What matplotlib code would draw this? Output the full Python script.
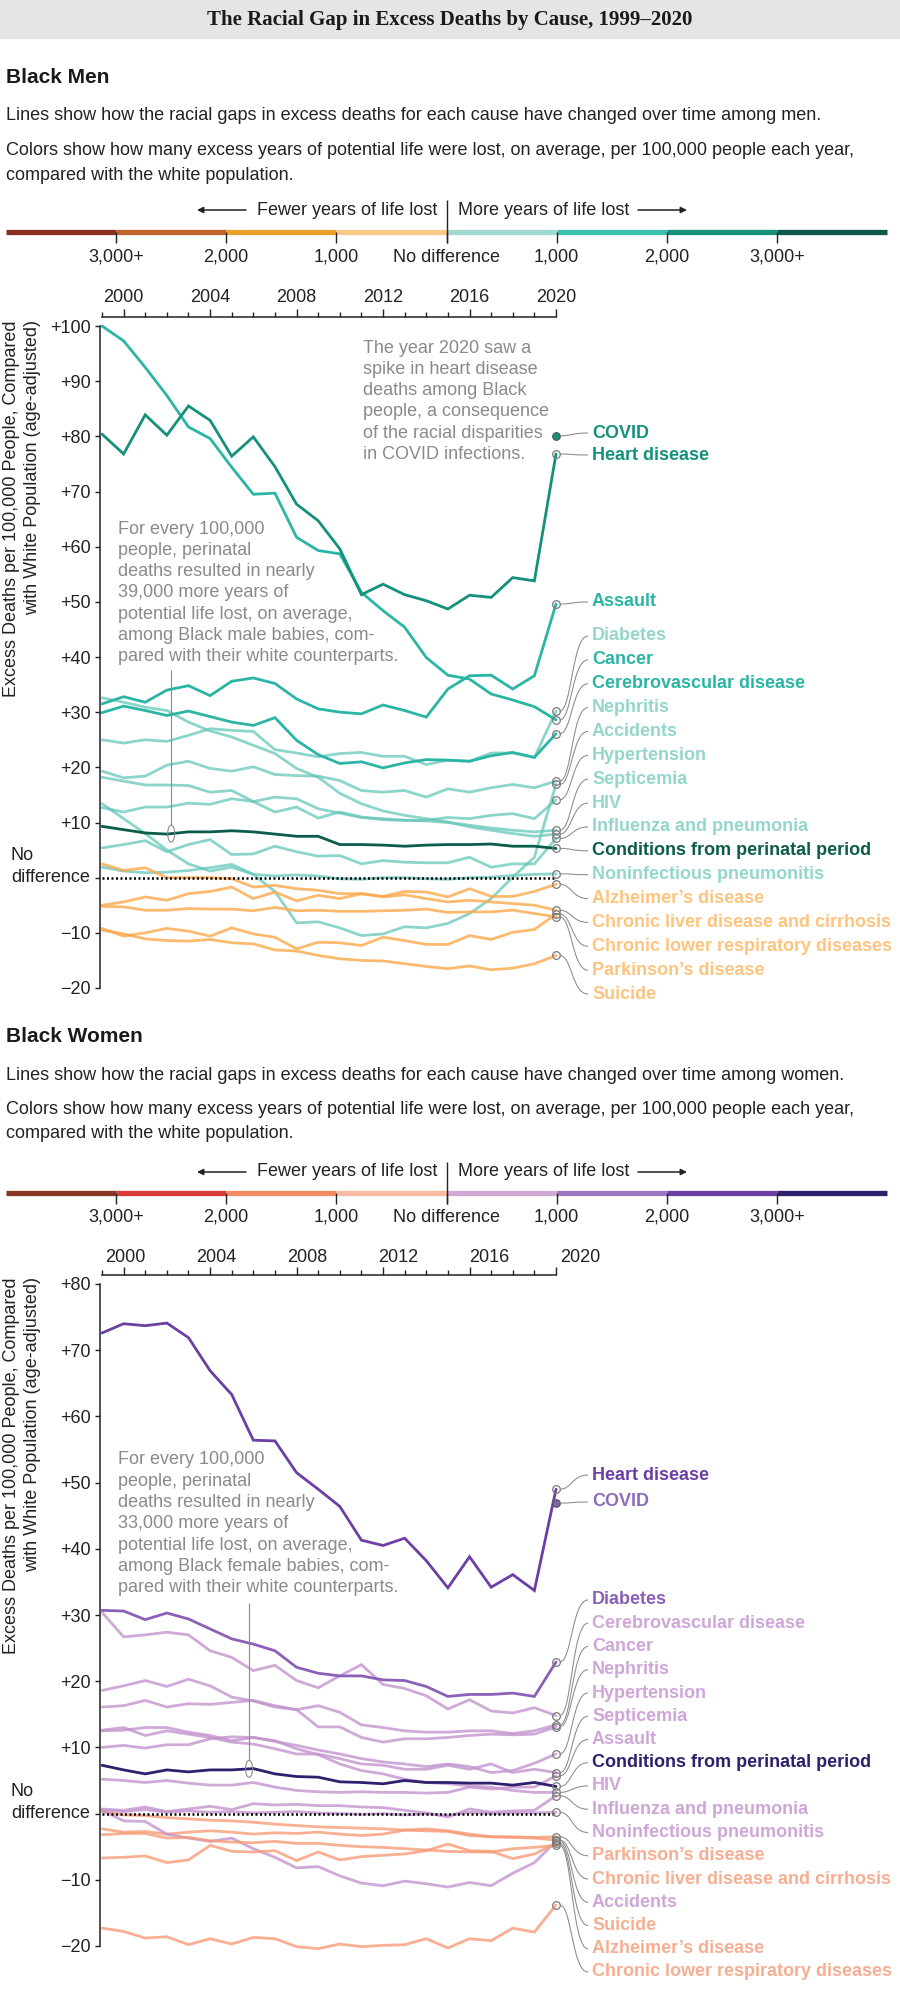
import numpy as np
import matplotlib
matplotlib.use("Agg")
import matplotlib.pyplot as plt
from matplotlib.patches import Rectangle, Ellipse, PathPatch
from matplotlib.path import Path

plt.rcParams["font.family"] = ["Liberation Sans", "DejaVu Sans"]

W, H = 900, 1993
YEARS = np.arange(1999, 2021)
MAJOR_YEARS = [2000, 2004, 2008, 2012, 2016, 2020]
SCALE_TICKS = ["3,000+", "2,000", "1,000", "No difference", "1,000", "2,000", "3,000+"]

# ---------------------------------------------------------------------
# Black men: excess deaths per 100,000 vs white men, 1999-2020
# ---------------------------------------------------------------------
men_heart = [80.4, 76.8, 83.9, 80.2, 85.5, 82.9, 76.4, 79.9, 74.5, 67.7, 64.7,
             59.6, 51.3, 53.2, 51.3, 50.2, 48.7, 51.2, 50.8, 54.4, 53.8, 76.8]
men_covid = 80.1  # 2020 only
men_cancer = [100.0, 97.3, 92.5, 87.4, 81.7, 79.6, 74.4, 69.5, 69.7, 61.7, 59.3,
              58.7, 51.7, 48.4, 45.4, 39.9, 36.7, 36.0, 33.3, 32.2, 31.0, 28.6]
men_assault = [31.5, 32.8, 31.8, 34.0, 34.8, 33.0, 35.6, 36.2, 35.2, 32.4, 30.6,
               30.0, 29.7, 31.3, 30.3, 29.1, 34.2, 36.6, 36.7, 34.2, 36.6, 49.6]
men_cerebro = [29.9, 31.1, 30.3, 29.4, 30.2, 29.2, 28.2, 27.6, 29.0, 24.9, 22.3,
               20.7, 21.0, 19.9, 20.8, 21.4, 21.3, 21.1, 22.1, 22.7, 21.8, 26.1]
men_diabetes = [25.0, 24.4, 25.0, 24.7, 25.8, 27.0, 26.7, 26.5, 23.2, 22.6, 21.9,
                22.5, 22.7, 22.0, 22.0, 20.5, 21.3, 21.1, 22.6, 22.6, 21.8, 30.2]
men_nephritis = [19.3, 18.1, 18.4, 20.4, 21.1, 19.8, 19.3, 20.1, 18.7, 18.5, 18.4,
                 17.6, 15.8, 15.5, 15.8, 14.6, 16.1, 15.5, 16.3, 16.9, 16.3, 17.5]
men_accidents = [13.4, 10.7, 8.0, 5.0, 2.5, 1.2, 1.9, 0.6, -2.5, -8.2, -8.0,
                 -9.1, -10.5, -10.2, -8.9, -9.1, -8.3, -6.5, -3.8, 0.1, 3.7, 16.9]
men_hypertension = [12.7, 11.9, 12.8, 12.8, 13.5, 13.3, 14.3, 13.8, 14.6, 14.3, 12.5,
                    11.7, 10.9, 10.7, 10.4, 10.4, 10.9, 10.7, 11.3, 11.6, 10.7, 14.1]
men_septicemia = [18.2, 17.5, 16.8, 16.8, 16.7, 15.5, 15.8, 13.8, 11.9, 12.8, 10.8,
                  11.9, 11.0, 10.5, 10.4, 10.3, 10.0, 9.5, 9.0, 8.6, 8.3, 8.6]
men_hiv = [32.6, 31.8, 30.9, 30.3, 28.2, 26.6, 25.5, 24.0, 22.5, 19.8, 18.2,
           15.3, 13.4, 12.1, 11.3, 10.7, 10.1, 9.2, 8.6, 8.0, 7.5, 7.9]
men_influenza = [5.4, 6.0, 6.7, 4.7, 6.0, 6.9, 4.2, 4.3, 5.7, 4.7, 3.9,
                 4.0, 2.5, 3.1, 2.8, 2.7, 2.7, 3.7, 1.9, 2.5, 2.5, 7.1]
men_perinatal = [9.3, 8.7, 8.1, 7.9, 8.3, 8.3, 8.5, 8.3, 7.9, 7.5, 7.5,
                 6.0, 6.0, 5.9, 5.7, 5.9, 6.0, 6.0, 6.1, 5.7, 5.7, 5.3]
men_noninfectious = [1.9, 1.2, 0.9, 1.0, 1.3, 1.8, 2.4, 0.6, 0.3, 0.5, 0.3,
                     -0.2, -0.3, 0.0, 0.0, -0.2, -0.3, 0.0, 0.1, 0.4, 0.6, 0.7]
men_alzheimer = [-5.0, -4.4, -3.5, -4.1, -2.9, -2.5, -1.7, -3.8, -2.6, -4.2, -3.2,
                 -3.8, -2.9, -3.4, -2.5, -2.6, -3.5, -2.0, -3.4, -3.4, -2.5, -1.2]
men_liver = [2.5, 1.3, 1.8, 0.0, 0.0, 0.0, -0.2, -1.7, -1.4, -2.0, -2.3,
             -2.9, -2.9, -3.5, -3.1, -3.8, -4.4, -4.1, -4.4, -4.7, -5.0, -5.9]
men_clrd = [-9.2, -10.6, -10.0, -9.2, -9.7, -10.6, -9.1, -10.2, -10.8, -12.9, -11.7,
            -11.8, -12.3, -10.8, -11.4, -12.1, -12.1, -10.5, -11.2, -9.9, -9.4, -6.6]
men_parkinson = [-5.2, -5.3, -5.9, -5.9, -5.6, -5.7, -5.7, -6.0, -5.4, -6.0, -5.9,
                 -6.1, -6.1, -6.0, -5.9, -5.7, -6.3, -6.2, -6.2, -5.9, -6.5, -7.1]
men_suicide = [-9.5, -10.2, -11.1, -11.4, -11.5, -11.2, -11.8, -12.0, -13.1, -13.3, -14.1,
               -14.7, -15.0, -15.1, -15.6, -16.1, -16.5, -16.0, -16.7, -16.4, -15.6, -14.1]

# ---------------------------------------------------------------------
# Black women
# ---------------------------------------------------------------------
wom_heart = [72.6, 74.0, 73.7, 74.1, 71.9, 66.9, 63.3, 56.4, 56.3, 51.5, 49.0,
             46.4, 41.3, 40.5, 41.6, 38.2, 34.1, 38.8, 34.2, 36.1, 33.7, 49.0]
wom_covid = 46.9  # 2020 only
wom_diabetes = [30.7, 30.6, 29.3, 30.3, 29.4, 27.9, 26.4, 25.6, 24.6, 22.1, 21.2,
                20.8, 20.8, 20.2, 20.1, 19.2, 17.7, 18.0, 18.0, 18.2, 17.7, 22.9]
wom_cerebro = [30.4, 26.7, 27.0, 27.4, 27.0, 24.6, 23.6, 21.6, 22.4, 20.1, 19.0,
               20.8, 22.5, 19.5, 18.9, 17.8, 15.8, 17.2, 15.5, 15.2, 16.0, 14.8]
wom_cancer = [18.6, 19.3, 20.1, 19.2, 20.3, 19.3, 17.6, 17.0, 16.1, 15.7, 16.3,
              15.3, 13.4, 13.0, 12.5, 12.3, 12.3, 12.5, 12.5, 12.1, 12.5, 13.4]
wom_nephritis = [16.1, 16.3, 17.1, 16.1, 16.6, 16.5, 16.8, 17.1, 16.3, 15.7, 13.1,
                 13.1, 11.5, 10.8, 11.3, 11.3, 11.5, 11.8, 12.0, 11.9, 12.0, 13.1]
wom_hypertension = [10.0, 10.3, 9.9, 10.4, 10.4, 11.3, 11.6, 11.5, 10.9, 10.3, 9.6,
                    9.0, 8.3, 7.8, 7.5, 7.1, 7.5, 7.1, 6.2, 6.5, 7.6, 9.0]
wom_septicemia = [12.6, 13.0, 11.8, 12.5, 12.0, 11.5, 10.8, 10.5, 9.8, 9.0, 9.0,
                  8.3, 7.5, 7.3, 6.7, 6.7, 7.3, 6.7, 7.5, 6.2, 6.7, 6.2]
wom_assault = [5.2, 5.0, 4.7, 5.0, 4.6, 4.3, 4.3, 4.7, 4.0, 3.5, 3.3,
               3.2, 3.3, 3.2, 3.2, 3.1, 3.2, 4.0, 3.7, 4.0, 4.0, 5.7]
wom_perinatal = [7.3, 6.6, 6.0, 6.6, 6.3, 6.6, 6.6, 6.8, 6.0, 5.6, 5.5,
                 4.8, 4.7, 4.5, 5.0, 4.7, 4.7, 4.6, 4.6, 4.3, 4.7, 4.1]
wom_hiv = [12.5, 12.6, 13.0, 13.0, 12.3, 11.8, 11.0, 11.5, 11.0, 9.8, 8.9,
           7.5, 6.5, 6.0, 5.2, 4.7, 4.5, 4.2, 4.0, 3.5, 3.2, 3.2]
wom_influenza = [0.7, 0.5, 1.0, 0.3, 0.7, 1.1, 0.6, 1.5, 1.3, 1.4, 1.2,
                 1.2, 1.0, 0.9, 0.5, 0.1, -0.5, 0.7, 0.2, 0.4, 0.5, 2.7]
wom_noninfectious = [0.5, 0.3, 0.6, 0.2, 0.4, 0.2, 0.3, 0.1, 0.2, 0.3, 0.1,
                     0.0, -0.1, 0.0, -0.2, 0.0, -0.3, 0.2, 0.0, 0.1, 0.1, 0.2]
wom_accidents = [0.5, -1.1, -1.2, -3.1, -3.7, -4.2, -3.7, -5.3, -6.6, -8.2, -8.0,
                 -9.4, -10.5, -10.9, -10.2, -10.6, -11.1, -10.4, -10.9, -9.0, -7.4, -4.2]
wom_parkinson = [0.3, -0.2, -0.3, -0.6, -0.8, -1.0, -1.1, -1.3, -1.6, -1.8, -2.0,
                 -2.1, -2.2, -2.3, -2.5, -2.6, -2.7, -3.3, -3.5, -3.5, -3.6, -3.5]
wom_liver = [-2.3, -2.8, -2.7, -3.1, -2.8, -2.6, -2.8, -3.1, -2.9, -3.0, -2.8,
             -3.1, -3.3, -3.1, -2.5, -2.3, -2.6, -3.1, -3.5, -3.6, -3.7, -4.0]
wom_alzheimer = [-3.2, -3.0, -3.0, -3.7, -3.6, -4.1, -4.3, -4.4, -4.2, -4.5, -4.5,
                 -4.8, -5.0, -5.1, -5.3, -5.5, -5.7, -5.8, -5.8, -5.3, -5.1, -4.8]
wom_suicide = [-6.7, -6.6, -6.4, -7.4, -7.0, -4.8, -5.7, -5.8, -5.6, -7.1, -5.8,
               -7.0, -6.5, -6.3, -6.1, -5.6, -4.6, -5.6, -5.7, -6.8, -6.1, -4.5]
wom_clrd = [-17.3, -17.8, -18.8, -18.6, -19.8, -18.9, -19.7, -18.7, -18.9, -20.1, -20.4,
            -19.7, -20.1, -19.9, -19.8, -18.9, -20.3, -18.9, -19.2, -17.3, -17.9, -13.8]

# colour scales (years of potential life lost, fewer <-> more)
MEN_SCALE = ["#8b2f22", "#c0632d", "#e9a02a", "#fcc98b",
             "#a0d9d0", "#3cbfb1", "#169079", "#0b5a48"]
WOMEN_SCALE = ["#8b3523", "#d93a38", "#f38b62", "#f7bba3",
               "#d0a9d5", "#9b78c0", "#6c3fa3", "#2f1f6d"]

# label order at the right of each panel (name, group)
MEN_ORDER = [("COVID", "covid"), ("Heart disease", "heart"), ("Assault", "mid"),
             ("Diabetes", "pale"), ("Cancer", "mid"), ("Cerebrovascular disease", "mid"),
             ("Nephritis", "pale"), ("Accidents", "pale"), ("Hypertension", "pale"),
             ("Septicemia", "pale"), ("HIV", "pale"), ("Influenza and pneumonia", "pale"),
             ("Conditions from perinatal period", "dark"),
             ("Noninfectious pneumonitis", "pale"), ("Alzheimer’s disease", "warm"),
             ("Chronic liver disease and cirrhosis", "warm"),
             ("Chronic lower respiratory diseases", "warm"),
             ("Parkinson’s disease", "warm"), ("Suicide", "warm")]
WOMEN_ORDER = [("Heart disease", "heart"), ("COVID", "covid"), ("Diabetes", "mid"),
               ("Cerebrovascular disease", "pale"), ("Cancer", "pale"), ("Nephritis", "pale"),
               ("Hypertension", "pale"), ("Septicemia", "pale"), ("Assault", "pale"),
               ("Conditions from perinatal period", "dark"), ("HIV", "pale"),
               ("Influenza and pneumonia", "pale"), ("Noninfectious pneumonitis", "pale"),
               ("Parkinson’s disease", "warm"), ("Chronic liver disease and cirrhosis", "warm"),
               ("Accidents", "pale"), ("Suicide", "warm"), ("Alzheimer’s disease", "warm"),
               ("Chronic lower respiratory diseases", "warm")]

MEN_DATA = {"Heart disease": men_heart, "Cancer": men_cancer, "Assault": men_assault,
            "Cerebrovascular disease": men_cerebro, "Diabetes": men_diabetes,
            "Nephritis": men_nephritis, "Accidents": men_accidents,
            "Hypertension": men_hypertension, "Septicemia": men_septicemia, "HIV": men_hiv,
            "Influenza and pneumonia": men_influenza,
            "Conditions from perinatal period": men_perinatal,
            "Noninfectious pneumonitis": men_noninfectious,
            "Alzheimer’s disease": men_alzheimer,
            "Chronic liver disease and cirrhosis": men_liver,
            "Chronic lower respiratory diseases": men_clrd,
            "Parkinson’s disease": men_parkinson, "Suicide": men_suicide}
WOMEN_DATA = {"Heart disease": wom_heart, "Diabetes": wom_diabetes,
              "Cerebrovascular disease": wom_cerebro, "Cancer": wom_cancer,
              "Nephritis": wom_nephritis, "Hypertension": wom_hypertension,
              "Septicemia": wom_septicemia, "Assault": wom_assault,
              "Conditions from perinatal period": wom_perinatal, "HIV": wom_hiv,
              "Influenza and pneumonia": wom_influenza,
              "Noninfectious pneumonitis": wom_noninfectious, "Accidents": wom_accidents,
              "Parkinson’s disease": wom_parkinson,
              "Chronic liver disease and cirrhosis": wom_liver,
              "Alzheimer’s disease": wom_alzheimer, "Suicide": wom_suicide,
              "Chronic lower respiratory diseases": wom_clrd}

MEN_STYLE = {"heart": ("#13917a", 1.0, 4, "#13917a"),
             "covid": ("#13917a", 1.0, 4, "#13917a"),
             "mid": ("#2ab5a5", 1.0, 3, "#2ab5a5"),
             "pale": ("#66c7b9", 0.75, 2, "#95d6cc"),
             "dark": ("#0b5c4a", 1.0, 4, "#0b5c4a"),
             "warm": ("#fca94a", 0.8, 2, "#fdc47e")}
WOMEN_STYLE = {"heart": ("#6c3fa3", 1.0, 4, "#6c3fa3"),
               "covid": ("#8064a8", 1.0, 4, "#8c6bb8"),
               "mid": ("#8b60b6", 1.0, 3, "#8b60b6"),
               "pale": ("#c394cf", 0.8, 2, "#cfa6d8"),
               "dark": ("#2f1f6d", 1.0, 4, "#2f1f6d"),
               "warm": ("#f79b77", 0.8, 2, "#f6ae92")}

NOTE_GRAY = "#8a8a8a"
FS = 13

fig = plt.figure(figsize=(W / 100, H / 100), dpi=100)
fig.patch.set_facecolor("white")

# layout constants in pixels
AX_LEFT, AX_RIGHT = 100, 562
X1999, X2020 = 102, 556


def signed(v):
    if v > 0:
        return f"+{v:d}"
    if v < 0:
        return f"\u2212{-v:d}"
    return ""


def make_axes(top_px, hi, lo, hi_px, lo_px):
    scale = (lo_px - hi_px) / (hi - lo)
    ytop = hi + (hi_px - top_px) / scale
    ybot = lo - 10 / scale
    bot_px = lo_px + 10
    xs = (X2020 - X1999) / 21.0
    ax = fig.add_axes([AX_LEFT / W, 1 - bot_px / H,
                       (AX_RIGHT - AX_LEFT) / W, (bot_px - top_px) / H])
    ax.set_xlim(1999 - (X1999 - AX_LEFT) / xs, 2020 + (AX_RIGHT - X2020) / xs)
    ax.set_ylim(ybot, ytop)
    ax.patch.set_visible(False)
    for s in ("right", "bottom"):
        ax.spines[s].set_visible(False)
    ax.spines["top"].set_bounds(1999, 2020)
    ax.spines["left"].set_bounds(lo, hi)
    for s in ("top", "left"):
        ax.spines[s].set_linewidth(1.1)
        ax.spines[s].set_color("#222222")
    ax.xaxis.set_ticks_position("top")
    ax.set_xticks(MAJOR_YEARS)
    ax.set_xticks(YEARS, minor=True)
    ax.tick_params(axis="x", which="major", length=6, width=1.0, pad=2,
                   labelsize=FS, colors="#222222")
    ax.tick_params(axis="x", which="minor", length=3.6, width=1.0, colors="#222222")
    yt = list(range(hi, lo - 1, -10))
    ax.set_yticks(yt)
    ax.set_yticklabels([signed(v) for v in yt])
    ax.tick_params(axis="y", length=3.6, width=1.0, pad=3, labelsize=FS, colors="#222222")
    return ax


def draw_lines(ax, data, order, style, covid):
    for name, grp in order:
        if grp == "covid":
            continue
        col, alpha, z, _ = style[grp]
        ax.plot(YEARS, data[name], color=col, alpha=alpha, lw=2.0, zorder=z,
                solid_joinstyle="miter", solid_capstyle="round")
        ax.plot(YEARS[-1], data[name][-1], "o", mfc="none", mec="#7a7a7a", mew=0.9,
                ms=5.5, zorder=8, clip_on=False)
    ax.plot(YEARS[-1], covid, "o", mfc=style["covid"][0], mec="#555555", mew=0.8,
            ms=5.5, zorder=9, clip_on=False)
    ax.plot([YEARS[0], YEARS[-1]], [0, 0], color="black", lw=1.8,
            linestyle=(0, (0.8, 1.0)), zorder=7)


axm = make_axes(317, 100, -20, 326, 988)
axw = make_axes(1275, 80, -20, 1284, 1946)
axw.set_xticklabels([""] * len(MAJOR_YEARS))

draw_lines(axm, MEN_DATA, MEN_ORDER, MEN_STYLE, men_covid)
draw_lines(axw, WOMEN_DATA, WOMEN_ORDER, WOMEN_STYLE, wom_covid)

# overlay in pixel coordinates for text, legend and leaders
ov = fig.add_axes([0, 0, 1, 1], zorder=10)
ov.set_xlim(0, W)
ov.set_ylim(H, 0)
ov.axis("off")


def to_px(ax, x, y):
    dx, dy = ax.transData.transform((x, y))
    return dx, H - dy


# title bar
ov.add_patch(Rectangle((0, 0), W, 38, color="#e5e5e5", zorder=0))
ov.text(W / 2, 20, "The Racial Gap in Excess Deaths by Cause, 1999–2020",
        family=["Liberation Serif", "DejaVu Serif"], fontweight="bold", fontsize=15,
        ha="center", va="center", color="#1a1a1a")


def header(y0, title, who):
    ov.text(6, y0, title, fontsize=15, fontweight="bold", va="center", color="#1a1a1a")
    ov.text(6, y0 + 38, "Lines show how the racial gaps in excess deaths for each cause "
            f"have changed over time among {who}.", fontsize=FS, va="center", color="#222222")


def scale_legend(cols, y_text, y_bar, y_lab):
    edges = np.linspace(6, 887, len(cols) + 1)
    ov.hlines([y_bar] * len(cols), edges[:-1], edges[1:], colors=cols, lw=3.8)
    ov.vlines(edges[1:-1], y_bar, y_bar + 11, colors="#222222", lw=1.0)
    mid = edges[len(cols) // 2]
    ov.vlines([mid], y_text - 10, y_bar + 11, colors="#222222", lw=1.0)
    for x, t in zip(edges[1:-1], SCALE_TICKS):
        ov.text(x, y_lab, t, ha="center", va="center", fontsize=FS, color="#222222")
    ov.text(mid - 9, y_text, "Fewer years of life lost", ha="right", va="center",
            fontsize=FS, color="#222222")
    ov.text(mid + 11, y_text, "More years of life lost", ha="left", va="center",
            fontsize=FS, color="#222222")
    ov.annotate("", xy=(197, y_text), xytext=(246, y_text),
                arrowprops=dict(arrowstyle="-|>", color="#222222", lw=1.1,
                                mutation_scale=9, shrinkA=0, shrinkB=0))
    ov.annotate("", xy=(687, y_text), xytext=(638, y_text),
                arrowprops=dict(arrowstyle="-|>", color="#222222", lw=1.1,
                                mutation_scale=9, shrinkA=0, shrinkB=0))


def ylabel(top):
    ov.text(12, top, "Excess Deaths per 100,000 People, Compared", rotation=90,
            ha="center", va="top", fontsize=FS, color="#222222")
    ov.text(33, top, "with White Population (age-adjusted)", rotation=90,
            ha="center", va="top", fontsize=FS, color="#222222")


def no_diff(ax):
    _, y0 = to_px(ax, YEARS[0], 0)
    ov.text(11, y0 - 22, "No", ha="left", va="center", fontsize=FS, color="#222222")
    ov.text(11, y0, "difference", ha="left", va="center", fontsize=FS, color="#222222")


def leader(x0, y0, x1, y1):
    verts = [(x0, y0), (x0 + 12, y0), (x1 - 16, y1), (x1, y1)]
    codes = [Path.MOVETO, Path.CURVE4, Path.CURVE4, Path.CURVE4]
    ov.add_patch(PathPatch(Path(verts, codes), fc="none", ec="#8a8a8a", lw=0.75))


def end_labels(ax, data, order, style, covid, label_ys):
    for (name, grp), ly in zip(order, label_ys):
        val = covid if grp == "covid" else data[name][-1]
        mx, my = to_px(ax, YEARS[-1], val)
        leader(mx + 3.8, my, 588, ly)
        ov.text(592, ly, name, fontsize=FS, fontweight="bold", va="center",
                color=style[grp][3])


def note(x, y0, lines):
    for i, t in enumerate(lines):
        ov.text(x, y0 + 21.3 * i, t, fontsize=FS, va="center", color=NOTE_GRAY)


def perinatal_pointer(ax, series, year, top):
    val = np.interp(year, YEARS, series)
    cx, cy = to_px(ax, year, val)
    ov.add_patch(Ellipse((cx, cy), 7, 17, fc="none", ec="#8a8a8a", lw=0.8))
    ov.vlines([cx], top, cy - 8.5, colors="#8a8a8a", lw=0.8)


# ---- men panel decorations ----
header(77, "Black Men", "men")
ov.text(6, 150, "Colors show how many excess years of potential life were lost, on average, "
        "per 100,000 people each year,", fontsize=FS, va="center", color="#222222")
ov.text(6, 175, "compared with the white population.", fontsize=FS, va="center",
        color="#222222")
scale_legend(MEN_SCALE, 210, 232, 257)
ylabel(320)
no_diff(axm)
note(363, 348, ["The year 2020 saw a", "spike in heart disease", "deaths among Black",
                "people, a consequence", "of the racial disparities", "in COVID infections."])
note(118, 529, ["For every 100,000", "people, perinatal", "deaths resulted in nearly",
                "39,000 more years of", "potential life lost, on average,",
                "among Black male babies, com-", "pared with their white counterparts."])
perinatal_pointer(axm, men_perinatal, 2002.2, 670)
men_ys = [433, 455, 602] + [636 + 23.87 * k for k in range(16)]
end_labels(axm, MEN_DATA, MEN_ORDER, MEN_STYLE, men_covid, men_ys)

# ---- women panel decorations ----
header(1037, "Black Women", "women")
ov.text(6, 1110, "Colors show how many excess years of potential life were lost, on average, "
        "per 100,000 people each year,", fontsize=FS, va="center", color="#222222")
ov.text(6, 1133, "compared with the white population.", fontsize=FS, va="center",
        color="#222222")
scale_legend(WOMEN_SCALE, 1172, 1193, 1217)
for yr in MAJOR_YEARS:
    px, _ = to_px(axw, yr, 0)
    ov.text(px + 1.4 + (yr - 2000) * 1.13, 1257, str(yr), ha="center", va="center",
            fontsize=FS, color="#222222")
ylabel(1277)
no_diff(axw)
note(118, 1460, ["For every 100,000", "people, perinatal", "deaths resulted in nearly",
                 "33,000 more years of", "potential life lost, on average,",
                 "among Black female babies, com-", "pared with their white counterparts."])
perinatal_pointer(axw, wom_perinatal, 2005.8, 1603)
wom_ys = [1475, 1502] + [1600 + 23.25 * k for k in range(17)]
end_labels(axw, WOMEN_DATA, WOMEN_ORDER, WOMEN_STYLE, wom_covid, wom_ys)

fig.savefig("out.png", dpi=100, facecolor="white")
